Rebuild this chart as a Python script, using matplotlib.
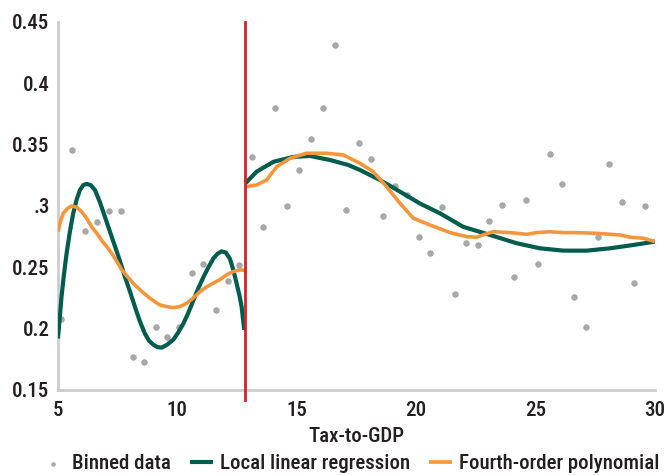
import matplotlib
matplotlib.use("Agg")
import matplotlib.pyplot as plt
from matplotlib import font_manager

# Data
bin_x = [5.13, 5.57, 6.13, 6.62, 7.12, 7.63, 8.15, 8.60, 9.10, 9.58, 10.08, 10.61,
         11.09, 11.62, 12.13, 12.59,
         13.11, 13.58, 14.10, 14.60, 15.10, 15.61, 16.11, 16.59, 17.07, 17.62,
         18.12, 18.62, 19.12, 19.63, 20.13, 20.59, 21.08, 21.64, 22.10, 22.60,
         23.06, 23.61, 24.10, 24.61, 25.11, 25.62, 26.12, 26.62, 27.12, 27.61,
         28.09, 28.63, 29.13, 29.59]
bin_y = [0.208, 0.346, 0.280, 0.287, 0.296, 0.296, 0.177, 0.173, 0.201, 0.193, 0.201, 0.245,
         0.253, 0.215, 0.239, 0.252,
         0.340, 0.283, 0.380, 0.300, 0.329, 0.355, 0.380, 0.431, 0.297, 0.351,
         0.338, 0.292, 0.316, 0.309, 0.275, 0.262, 0.299, 0.228, 0.270, 0.268,
         0.288, 0.301, 0.242, 0.305, 0.253, 0.342, 0.318, 0.226, 0.201, 0.275,
         0.334, 0.303, 0.237, 0.300]

llr_left_x = [5.0, 5.08, 5.15, 5.25, 5.36, 5.5, 5.64, 5.78, 5.92, 6.06, 6.2, 6.37, 6.55,
              6.76, 6.97, 7.18, 7.39, 7.6, 7.81, 8.02, 8.22, 8.43, 8.64, 8.82, 8.99,
              9.16, 9.34, 9.58, 9.83, 10.04, 10.25, 10.46, 10.67, 10.88, 11.09, 11.3,
              11.5, 11.68, 11.85, 12.03, 12.2, 12.34, 12.48, 12.6, 12.69, 12.8]
llr_left_y = [0.192, 0.210, 0.226, 0.244, 0.261, 0.279, 0.294, 0.305, 0.313, 0.317, 0.318,
              0.317, 0.313, 0.303, 0.291, 0.279, 0.267, 0.255, 0.242, 0.230, 0.218, 0.206,
              0.196, 0.190, 0.187, 0.185, 0.1845, 0.187, 0.191, 0.197, 0.204, 0.213, 0.223,
              0.233, 0.242, 0.250, 0.257, 0.261, 0.263, 0.262, 0.257, 0.248, 0.237, 0.227,
              0.218, 0.199]
llr_right_x = [12.85, 13.32, 14.02, 14.85, 15.55, 16.39, 17.16, 17.65, 18.48, 19.32, 20.16,
               21.0, 21.97, 23.09, 24.21, 25.18, 26.16, 27.14, 28.12, 29.09, 30.0]
llr_right_y = [0.3185, 0.328, 0.336, 0.340, 0.3408, 0.3375, 0.3334, 0.3293, 0.3212, 0.3117, 0.302,
               0.294, 0.283, 0.2764, 0.2696, 0.2655, 0.2636, 0.2636, 0.2655, 0.2682, 0.271]

poly_left_x = [5.0, 5.1, 5.22, 5.4, 5.57, 5.78, 5.99, 6.2, 6.41, 6.62, 6.83, 7.04, 7.25,
               7.46, 7.67, 7.95, 8.22, 8.53, 8.85, 9.06, 9.27, 9.55, 9.83, 10.11, 10.39,
               10.67, 10.95, 11.22, 11.5, 11.78, 12.06, 12.27, 12.48, 12.65, 12.83]
poly_left_y = [0.279, 0.287, 0.294, 0.298, 0.300, 0.299, 0.2954, 0.290, 0.283, 0.278, 0.272,
               0.267, 0.2614, 0.255, 0.248, 0.2415, 0.2356, 0.230, 0.2248, 0.222, 0.2193,
               0.218, 0.2171, 0.218, 0.2207, 0.225, 0.2302, 0.234, 0.237, 0.240, 0.2438,
               0.246, 0.2473, 0.248, 0.2473]
poly_right_x = [12.85, 13.32, 13.74, 14.16, 14.72, 15.41, 16.25, 16.95, 17.65, 18.2, 18.76,
                19.32, 19.88, 20.58, 21.42, 22.11, 22.53, 22.81, 23.23, 23.93, 24.63,
                25.04, 25.6, 26.16, 26.72, 27.56, 28.53, 28.95, 29.51, 30.0]
poly_right_y = [0.3157, 0.3171, 0.3212, 0.332, 0.3389, 0.343, 0.343, 0.3416, 0.3348, 0.328, 0.3157,
                0.3022, 0.290, 0.2845, 0.2783, 0.275, 0.2745, 0.2765, 0.279, 0.2783, 0.2769,
                0.2783, 0.279, 0.2783, 0.2783, 0.2777, 0.2764, 0.2745, 0.2737, 0.271]

cutoff = 12.83
y_ticks = [0.15, 0.2, 0.25, 0.3, 0.35, 0.4, 0.45]
y_ticklabels = ["0.15", "0.2", "0.25", ".3", "0.35", "0.4", "0.45"]
x_ticks = [5, 10, 15, 20, 25, 30]

GREEN = "#005C4C"
ORANGE = "#F4963E"
RED = "#D0232B"
GREY = "#A8A8A8"
TEXT = "#231F20"

# look for a narrow / condensed face, else DejaVu
fam = "DejaVu Sans"
stretch = "normal"
names = {f.name for f in font_manager.fontManager.ttflist}
for cand in ["Liberation Sans Narrow", "Roboto Condensed", "Open Sans Condensed",
             "Noto Sans Condensed", "DejaVu Sans Condensed"]:
    if cand in names:
        fam = cand
        break
else:
    for f in font_manager.fontManager.ttflist:
        if "condensed" in str(f.stretch).lower() and f.name in ("DejaVu Sans", "Noto Sans",
                                                                 "Open Sans", "Roboto"):
            fam = f.name
            stretch = "condensed"
            break
condensed = fam != "DejaVu Sans" or stretch == "condensed"
plt.rcParams["font.family"] = [fam, "DejaVu Sans"]
plt.rcParams["font.stretch"] = stretch
plt.rcParams["font.weight"] = "medium"
plt.rcParams["axes.labelweight"] = "medium"

tick_fs = 15 if condensed else 13
leg_fs = 15 if condensed else 12

fig = plt.figure(figsize=(6.66, 4.75), dpi=100)
ax = fig.add_axes([0.087, 0.179, 0.8965, 0.7747])

ax.scatter(bin_x, bin_y, s=22, color=GREY, zorder=2, label="Binned data", linewidths=0)
ax.plot(llr_left_x, llr_left_y, color=GREEN, lw=3.0, zorder=3, label="Local linear regression",
        solid_capstyle="butt")
ax.plot(llr_right_x, llr_right_y, color=GREEN, lw=3.0, zorder=3, solid_capstyle="butt")
ax.plot(poly_left_x, poly_left_y, color=ORANGE, lw=2.6, zorder=4, label="Fourth-order polynomial",
        solid_capstyle="butt")
ax.plot(poly_right_x, poly_right_y, color=ORANGE, lw=2.6, zorder=4, solid_capstyle="butt")
ax.plot([cutoff, cutoff], [0.45, 0.142], color=RED, lw=2.0, zorder=5, clip_on=False)

ax.set_xlim(5, 30)
ax.set_ylim(0.15, 0.45)
ax.set_xticks(x_ticks)
ax.set_yticks(y_ticks)
ax.set_yticklabels(y_ticklabels)
ax.tick_params(length=0, labelsize=tick_fs, colors=TEXT)
ax.tick_params(axis="y", pad=6)
ax.tick_params(axis="x", pad=8)
ax.set_xlabel("Tax-to-GDP", fontsize=tick_fs, color=TEXT, labelpad=5)

for s in ["top", "right"]:
    ax.spines[s].set_visible(False)
for s in ["left", "bottom"]:
    ax.spines[s].set_color("#CCCCCC")
    ax.spines[s].set_linewidth(2)

leg = ax.legend(loc="center", bbox_to_anchor=(0.49, -0.2), ncol=3, frameon=False,
                fontsize=leg_fs, handlelength=1.1, columnspacing=0.9, handletextpad=0.35,
                markerscale=0.7, borderpad=0, borderaxespad=0)
for t in leg.get_texts():
    t.set_color(TEXT)

fig.savefig("out.png", dpi=100)
